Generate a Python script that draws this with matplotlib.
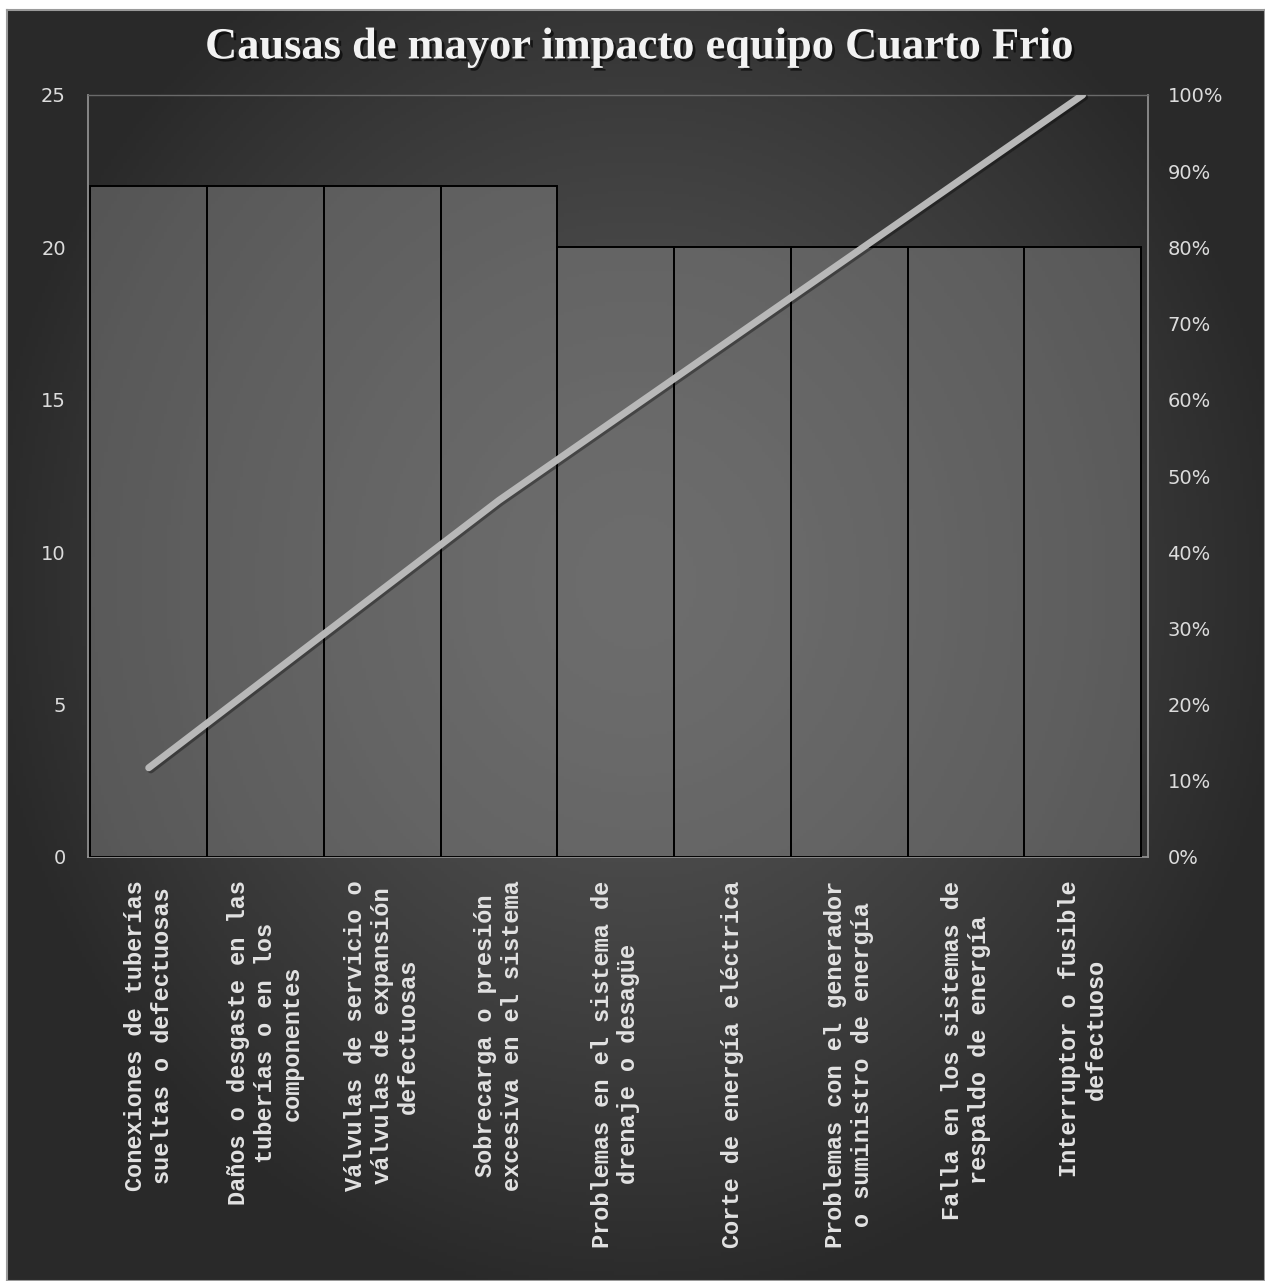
import numpy as np
import matplotlib
matplotlib.use("Agg")
import matplotlib.pyplot as plt
import matplotlib.patheffects as pe
from matplotlib.ticker import PercentFormatter

# causas y frecuencias
causas = [
    "Conexiones de tuberías\nsueltas o defectuosas",
    "Daños o desgaste en las\ntuberías o en los\ncomponentes",
    "Válvulas de servicio o\nválvulas de expansión\ndefectuosas",
    "Sobrecarga o presión\nexcesiva en el sistema",
    "Problemas en el sistema de\ndrenaje o desagüe",
    "Corte de energía eléctrica",
    "Problemas con el generador\no suministro de energía",
    "Falla en los sistemas de\nrespaldo de energía",
    "Interruptor o fusible\ndefectuoso",
]
frecuencia = [22, 22, 22, 22, 20, 20, 20, 20, 20]

y_ticks = [0, 5, 10, 15, 20, 25]
pct_ticks = [0, 0.1, 0.2, 0.3, 0.4, 0.5, 0.6, 0.7, 0.8, 0.9, 1.0]

# porcentaje acumulado (Pareto)
frec = np.array(frecuencia, dtype=float)
acumulado = np.cumsum(frec) / frec.sum()

W, H = 1265, 1281
fig = plt.figure(figsize=(W / 100, H / 100), dpi=100, facecolor="white")

# fondo oscuro con degradado radial
bg = fig.add_axes([7 / W, 0, 1 - 7 / W, 1 - 10 / H], zorder=-5)
gx, gy = np.meshgrid(np.linspace(-1, 1, 400), np.linspace(-1, 1, 400))
r = np.sqrt((gx / 1.05) ** 2 + ((gy - 0.1) / 1.15) ** 2)
r = np.clip(r, 0, 1)
val = 0x56 - (0x56 - 0x29) * r ** 1.3
img = np.dstack([val, val, val]) / 255.0
bg.imshow(img, aspect="auto", extent=[0, 1, 0, 1], origin="lower")
bg.set_xticks([])
bg.set_yticks([])
for s in bg.spines.values():
    s.set_color("#9a9a9a")
    s.set_linewidth(1.5)

ax = fig.add_axes([88 / W, 1 - 857 / H, (1148 - 88) / W, (857 - 95) / H])
ax.patch.set_alpha(0)

x = np.arange(len(frecuencia))
ax.bar(x, frecuencia, width=1.0, color="#8a8a8a", alpha=0.45,
       edgecolor="none", zorder=2)
ax.bar(x, frecuencia, width=1.0, facecolor="none", edgecolor="black",
       linewidth=1.4, zorder=3)

ax.set_xlim(-0.52, 8.56)
ax.set_ylim(0, 25)
ax.set_yticks(y_ticks)
ax.set_xticks(x)
ax.set_xticklabels(causas, rotation=90, ha="center", va="top",
                   multialignment="center", linespacing=1.2,
                   family="Liberation Mono", fontweight="bold", fontsize=17)
ax.tick_params(axis="x", length=0, pad=17, labelcolor="#e2e2e2")
ax.tick_params(axis="y", length=0, pad=16, labelsize=14, labelcolor="#dcdcdc")

for s in ax.spines.values():
    s.set_color("#8e8e8e")
    s.set_linewidth(1.3)
ax.spines["top"].set_color("#6a6a6a")
ax.spines["top"].set_linewidth(1.0)

# eje secundario con el porcentaje acumulado
ax2 = ax.twinx()
ax2.set_ylim(0, 1)
ax2.set_yticks(pct_ticks)
ax2.yaxis.set_major_formatter(PercentFormatter(1.0, decimals=0))
ax2.tick_params(axis="y", length=0, pad=14, labelsize=14, labelcolor="#dcdcdc")
for s in ax2.spines.values():
    s.set_visible(False)

ax2.plot(x, acumulado, color="#b8b8b8", linewidth=5, solid_capstyle="round",
         zorder=5,
         path_effects=[pe.SimpleLineShadow(offset=(1.5, -1.5), shadow_color="black", alpha=0.35),
                       pe.Normal()])

fig.text(0.506, 0.963, "Causas de mayor impacto equipo Cuarto Frio",
         ha="center", va="center", family="Liberation Serif", fontweight="bold",
         fontsize=32, color="#f2f2f2",
         path_effects=[pe.withSimplePatchShadow(offset=(2, -2), shadow_rgbFace="black", alpha=0.6)])

fig.savefig("out.png", dpi=100, facecolor="white")
